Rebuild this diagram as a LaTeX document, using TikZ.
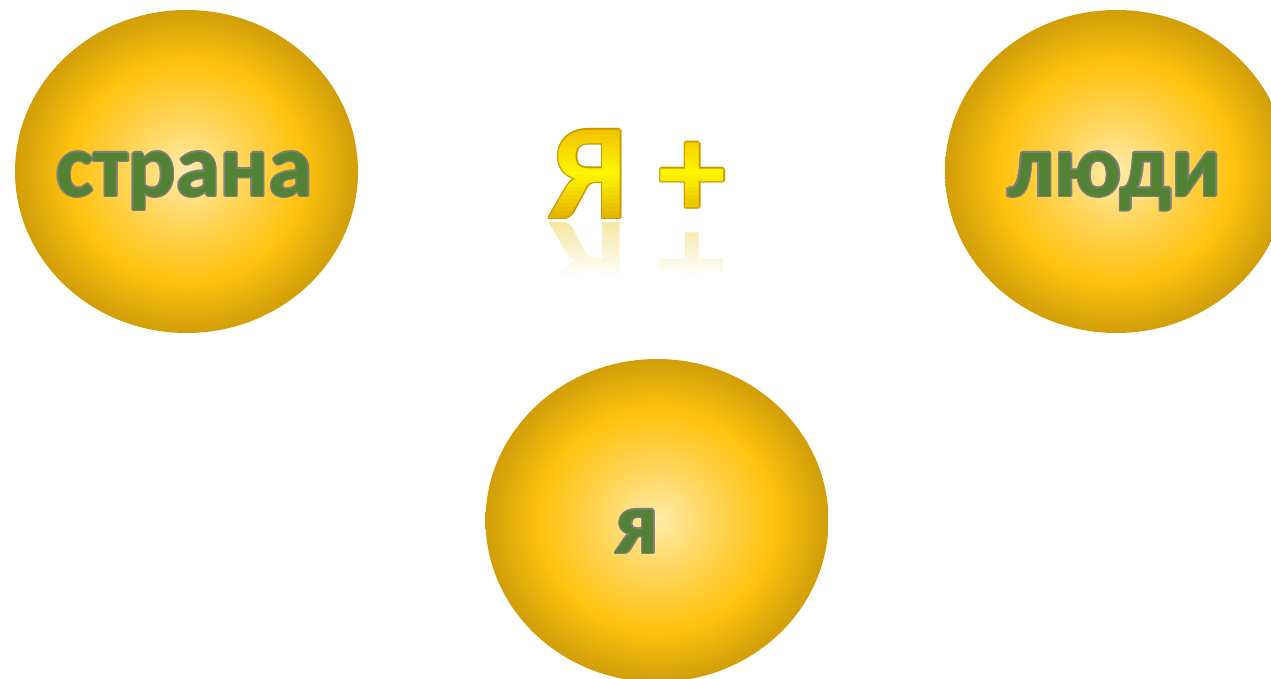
\documentclass[tikz,border=0pt]{standalone}
\usepackage{fontspec}
\setmainfont{Carlito}
\usetikzlibrary{shapes.geometric,positioning}

\definecolor{ballcore}{HTML}{FFEBAA}
\definecolor{ballsoft}{HTML}{FFD65C}
\definecolor{ballmid}{HTML}{FFC20E}
\definecolor{balledge}{HTML}{D19E08}
\definecolor{leafgreen}{HTML}{548235}
\definecolor{rimgray}{HTML}{7F7F7F}
\definecolor{goldtop}{HTML}{F0BC00}
\definecolor{goldbot}{HTML}{E2AE00}
\definecolor{brightyel}{HTML}{FFF700}
\definecolor{goldrim}{HTML}{C89A00}
\definecolor{reflcol}{HTML}{F6E6A2}

\pgfdeclareradialshading{goldball}{\pgfpoint{0bp}{0bp}}{%
  color(0bp)=(ballcore); color(8bp)=(ballsoft); color(17bp)=(ballmid);
  color(25bp)=(balledge); color(50bp)=(balledge)}

% text with a thin rim: copies in #1 round it, then the text in #2
\newcommand\rimtext[3]{%
  \foreach \ang in {0,45,...,315}{%
    \pgfmathsetlengthmacro\rimdx{1.5pt*cos(\ang)}%
    \pgfmathsetlengthmacro\rimdy{1.5pt*sin(\ang)}%
    \rlap{\kern\rimdx\raisebox{\rimdy}{\textcolor{#1}{#3}}}}%
  \textcolor{#2}{#3}}
\newcommand\wordfont{\bfseries\fontsize{89}{89}\selectfont}
\newcommand\headfont{\bfseries\fontsize{136}{136}\selectfont}

\begin{document}
\begin{tikzpicture}[
    x=1pt, y=1pt,
    ball/.style={ellipse, shading=goldball, minimum width=343, minimum height=323, inner sep=0pt},
    word/.style={anchor=base, inner sep=0pt, font=\wordfont},
    head/.style={inner sep=0pt, font=\headfont, text height=0.75em, text depth=0.75em}
  ]
    \useasboundingbox (0,0) rectangle (1271,679);
    \clip (0,0) rectangle (1271,679);
    % the three balls
    \node[ball] (stranaball) at (186.5,507.5) {};
    \node[ball] (lyudiball) at (1116.5,507.5) {};
    \node[ball] (yaball) at (657,158.5) {};
    \node[word] (strana) at ([xshift=-2pt,yshift=-25pt]stranaball.center)
      {\rimtext{rimgray}{leafgreen}{страна}};
    \node[word] (lyudi) at ([xshift=-2pt,yshift=-25pt]lyudiball.center)
      {\rimtext{rimgray}{leafgreen}{люди}};
    \node[word] (ya) at ([xshift=-20pt,yshift=-33pt]yaball.center)
      {\rimtext{rimgray}{leafgreen}{я}};
    % heading: rim first, then the gold bands over it
    \node[head] (yaplus) at (638,460.5) {\rimtext{goldrim}{goldbot}{Я +}};
    \foreach \k in {0,...,24}{
      \pgfmathsetmacro\bandlo{456+\k*4}
      \ifnum\k<13
        \pgfmathtruncatemacro\bandpct{\k/12*100}
        \colorlet{bandcol}{brightyel!\bandpct!goldbot}
      \else
        \pgfmathtruncatemacro\bandpct{(24-\k)/12*100}
        \colorlet{bandcol}{brightyel!\bandpct!goldtop}
      \fi
      \begin{scope}
        \clip (520,\bandlo) rectangle (760,\bandlo+4.6);
        \node[head, text=bandcol] (yaband\k) at (yaplus.center) {Я +};
      \end{scope}
    }
    % reflection under the heading
    \foreach \j in {0,...,11}{
      \pgfmathsetmacro\bandhi{457-\j*5}
      \pgfmathtruncatemacro\bandpct{100-\j/11*100}
      \colorlet{bandcol}{reflcol!\bandpct!white}
      \begin{scope}
        \clip (520,\bandhi) rectangle (760,\bandhi-5.6);
        \node[head, text=bandcol, yscale=-1] (reflband\j) at ([yshift=-4pt]yaplus.center) {Я +};
      \end{scope}
    }
  \end{tikzpicture}
\end{document}
